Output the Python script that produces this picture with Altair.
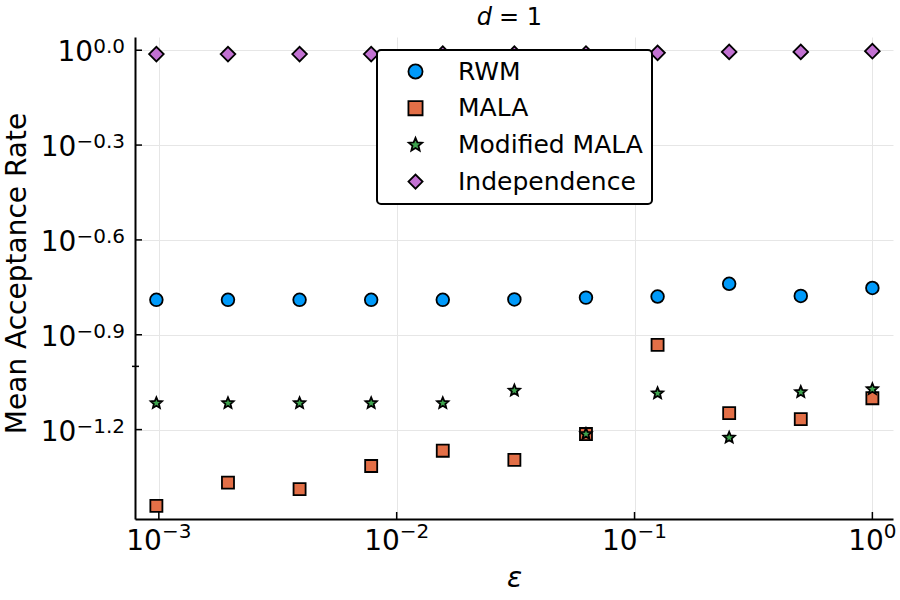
import math

import altair as alt
import pandas as pd

# ---- data -------------------------------------------------------------
eps = [0.0009765625, 0.001953125, 0.00390625, 0.0078125, 0.015625,
       0.03125, 0.0625, 0.125, 0.25, 0.5, 1.0]

rwm = [0.1624, 0.1624, 0.1624, 0.1624, 0.1624, 0.1628, 0.1650, 0.1663, 0.1825, 0.1670, 0.1770]
mala = [0.0362, 0.0429, 0.0409, 0.0484, 0.0541, 0.0506, 0.0611, 0.1170, 0.0711, 0.0681, 0.0793]
mmala = [0.0765, 0.0765, 0.0765, 0.0765, 0.0765, 0.0838, 0.0611, 0.0822, 0.0595, 0.0829, 0.0847]
indep = [0.972, 0.972, 0.972, 0.972, 0.975, 0.975, 0.976, 0.981, 0.988, 0.988, 0.993]

series_names = ["RWM", "MALA", "Modified MALA", "Independence"]
series_colors = ["#009AFA", "#E36F47", "#3EA44E", "#C271D2"]

xtick_exp = [-3, -2, -1, 0]
xtick_sup = ["\u22123", "\u22122", "\u22121", "0"]
ytick_exp = [0.0, -0.3, -0.6, -0.9, -1.2]
ytick_sup = ["0.0", "\u22120.3", "\u22120.6", "\u22120.9", "\u22121.2"]
yminor = [0.1]

# ---- layout -----------------------------------------------------------
FONT = "DejaVu Sans"
W, H = 758, 482
BASE_FS, SUP_FS = 28, 20

# advance widths (em) of the DejaVu Sans glyphs used in tick labels
ADV = {"\u2212": 0.838, ".": 0.318}


def text_width(s, size):
    return sum(ADV.get(ch, 0.636) for ch in s) * size


TEN_W = text_width("10", BASE_FS)


def star_path(inner=0.45):
    pts = []
    for k in range(10):
        a = math.radians(-90 + 36 * k)
        r = 1.0 if k % 2 == 0 else inner
        pts.append(f"{r * math.cos(a):.4f},{r * math.sin(a):.4f}")
    return "M" + " L".join(pts) + " Z"


series_shapes = ["circle", "square", star_path(), "diamond"]
marker_sizes = [160, 145, 140, 215]

rows = []
for name, vals in zip(series_names, [rwm, mala, mmala, indep]):
    for e, v in zip(eps, vals):
        rows.append({"eps": e, "rate": v, "series": name})
df = pd.DataFrame(rows)

xscale = alt.Scale(type="log", domain=[7.94e-4, 1.221], nice=False)
yscale = alt.Scale(type="log", domain=[0.0329, 1.1011], nice=False)

x_axis = alt.Axis(
    values=[10.0 ** e for e in xtick_exp], labels=False, ticks=False,
    title="ε", titleFontStyle="italic", titleX=W / 2, titleY=67,
    titleBaseline="alphabetic", titleAlign="center")
y_axis = alt.Axis(
    values=[10.0 ** e for e in ytick_exp], labels=False, ticks=False,
    title="Mean Acceptance Rate", titleX=-110, titleY=236, titleAngle=-90,
    titleBaseline="alphabetic", titleAlign="center", titleFontSize=28)

X = alt.X("eps:Q", scale=xscale, axis=x_axis)
Y = alt.Y("rate:Q", scale=yscale, axis=y_axis)

leg = alt.Legend(
    title=None, orient="none", legendX=242, legendY=13,
    labelFont=FONT, labelFontSize=25, labelColor="black", labelLimit=400,
    symbolStrokeColor="black", symbolStrokeWidth=1.8, symbolOpacity=1, symbolSize=200,
    strokeColor="black", fillColor="white", cornerRadius=4,
    padding=9, rowPadding=10.7, symbolOffset=17, labelOffset=30,
)

color = alt.Color("series:N", scale=alt.Scale(domain=series_names, range=series_colors), legend=leg)
shape = alt.Shape("series:N", scale=alt.Scale(domain=series_names, range=series_shapes), legend=leg)
outline = alt.Stroke("series:N", scale=alt.Scale(domain=series_names, range=["black"] * 4), legend=leg)

# one point layer per series, drawn in legend order
point_layers = []
for name, size in zip(series_names, marker_sizes):
    point_layers.append(
        alt.Chart(df).transform_filter(alt.datum.series == name).mark_point(
            filled=True, opacity=1, size=size, strokeWidth=1.8
        ).encode(x=X, y=Y, color=color, shape=shape, stroke=outline)
    )

# inward tick marks
xt = pd.DataFrame({"eps": [10.0 ** e for e in xtick_exp]})
xticks = alt.Chart(xt).mark_rule(color="black", strokeWidth=1.5).encode(
    x=X, y=alt.value(H), y2=alt.value(H - 7))

yt = pd.DataFrame({"rate": [10.0 ** e for e in ytick_exp]})
yticks = alt.Chart(yt).mark_rule(color="black", strokeWidth=1.5).encode(
    y=Y, x=alt.value(0), x2=alt.value(7))

ym = pd.DataFrame({"rate": yminor})
yminor_ticks = alt.Chart(ym).mark_rule(color="black", strokeWidth=1.5).encode(
    y=Y, x=alt.value(-3), x2=alt.value(4))

# tick labels: "10" with a raised exponent
label_layers = []
for e, s in zip(xtick_exp, xtick_sup):
    left = -(TEN_W + text_width(s, SUP_FS)) / 2
    d = pd.DataFrame({"eps": [10.0 ** e], "sup": [s], "base": ["10"]})
    label_layers.append(alt.Chart(d).mark_text(
        align="left", baseline="alphabetic", dx=left, font=FONT, fontSize=BASE_FS, color="black"
    ).encode(x=X, y=alt.value(H + 31), text="base:N"))
    label_layers.append(alt.Chart(d).mark_text(
        align="left", baseline="alphabetic", dx=left + TEN_W, font=FONT, fontSize=SUP_FS, color="black"
    ).encode(x=X, y=alt.value(H + 19), text="sup:N"))

for e, s in zip(ytick_exp, ytick_sup):
    d = pd.DataFrame({"rate": [10.0 ** e], "sup": [s], "base": ["10"]})
    label_layers.append(alt.Chart(d).mark_text(
        align="right", baseline="alphabetic", dy=11, font=FONT, fontSize=BASE_FS, color="black"
    ).encode(y=Y, x=alt.value(-10 - text_width(s, SUP_FS)), text="base:N"))
    label_layers.append(alt.Chart(d).mark_text(
        align="right", baseline="alphabetic", dy=3, font=FONT, fontSize=SUP_FS, color="black"
    ).encode(y=Y, x=alt.value(-10), text="sup:N"))

# title: italic d followed by "= 1"
title_d = alt.Chart(pd.DataFrame({"s": ["d"]})).mark_text(
    align="right", baseline="alphabetic", font=FONT, fontSize=24, fontStyle="italic", color="black"
).encode(text="s:N", x=alt.value(357), y=alt.value(-12))
title_rest = alt.Chart(pd.DataFrame({"s": ["= 1"]})).mark_text(
    align="left", baseline="alphabetic", font=FONT, fontSize=24, color="black"
).encode(text="s:N", x=alt.value(364), y=alt.value(-12))

chart = alt.layer(
    *point_layers, xticks, yticks, yminor_ticks, *label_layers, title_d, title_rest,
).properties(
    width=W, height=H,
    autosize=alt.AutoSizeParams(type="none"),
    padding={"left": 135, "top": 37, "right": 7, "bottom": 81},
).configure_view(stroke=None).configure_axis(
    gridColor="#e6e6e6", gridWidth=1, domainColor="black", domainWidth=2,
    titleFont=FONT, titleFontSize=28, titleFontWeight="normal", titleColor="black",
).configure_legend(strokeWidth=2)

chart.save("out.html", embed_options={"renderer": "svg", "actions": False})
